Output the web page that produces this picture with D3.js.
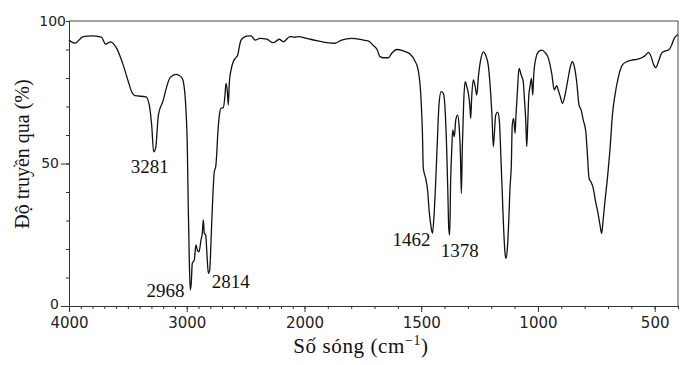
<!DOCTYPE html>
<html>
<head>
<meta charset="utf-8">
<script src="https://cdn.jsdelivr.net/npm/d3@7"></script>
<style>
  html, body { margin: 0; padding: 0; background: #fff; }
  #chart { width: 690px; height: 365px; }
  .tick text { font-family: "DejaVu Sans", Verdana, sans-serif; font-size: 15px; fill: #222; }
  .y-axis .tick text { font-size: 14px; }
  .serif { font-family: "Liberation Serif", "Times New Roman", serif; fill: #111; }
</style>
</head>
<body>
<div id="chart"></div>
<script>
// wavenumber (cm-1) and transmittance (%)
const wavenumber = [
  4000, 3950, 3880, 3810, 3725, 3688, 3648, 3595, 3540, 3496, 3468, 3440, 3346, 3318, 3298, 3281,
  3264, 3241, 3199, 3180, 3140, 3090, 3072, 3040, 3029, 3009, 2995, 2987, 2978, 2970, 2961, 2953,
  2936, 2922, 2910, 2896, 2879, 2868, 2859, 2851, 2839, 2828, 2817, 2805, 2794, 2783, 2766, 2754,
  2746, 2737, 2723, 2709, 2690, 2675, 2667, 2655, 2647, 2638, 2624, 2605, 2584, 2567, 2556, 2539,
  2505, 2491, 2463, 2449, 2420, 2378, 2321, 2265, 2214, 2180, 2123, 2081, 2053, 1991, 1948, 1905,
  1869, 1841, 1798, 1748, 1727, 1705, 1688, 1677, 1660, 1641, 1626, 1605, 1577, 1548, 1527, 1513,
  1501, 1495, 1491, 1481, 1472, 1467, 1459, 1452, 1445, 1438, 1431, 1424, 1415, 1405, 1398, 1391,
  1386, 1382, 1378, 1374, 1369, 1365, 1358, 1352, 1344, 1338, 1332, 1328, 1324, 1318, 1312, 1305,
  1298, 1292, 1288, 1284, 1277, 1270, 1262, 1255, 1244, 1234, 1224, 1212, 1204, 1197, 1191, 1187,
  1181, 1172, 1165, 1159, 1152, 1147, 1141, 1137, 1131, 1124, 1120, 1114, 1110, 1104, 1098, 1094,
  1088, 1081, 1072, 1063, 1058, 1052, 1048, 1044, 1039, 1034, 1028, 1022, 1018, 1009, 998, 984,
  970, 955, 941, 930, 920, 913, 904, 895, 884, 872, 861, 853, 844, 834, 824, 815,
  806, 795, 788, 781, 773, 763, 753, 744, 734, 727, 720, 713, 701, 691, 681, 670,
  655, 638, 620, 598, 577, 555, 538, 527, 515, 505, 495, 484, 470, 455, 441, 427,
  416, 403, 400
];
const transmittance = [
  93.3, 92.2, 94.5, 94.8, 94.3, 91.8, 92.7, 90.4, 84.6, 78.7, 75.2, 73.8, 73.4, 70.5, 63.5, 54.1,
  55.4, 67.0, 72.3, 75.5, 80.2, 81.3, 81.1, 80.0, 78.7, 70.5, 55.3, 34.4, 15.6, 5.6, 8.5, 15.0,
  16.1, 21.4, 19.6, 19.0, 23.2, 25.5, 30.2, 25.5, 24.9, 17.9, 11.5, 12.6, 22.6, 34.3, 47.1, 48.9,
  53.0, 60.0, 67.0, 69.4, 69.6, 74.0, 78.1, 75.2, 70.5, 78.7, 82.8, 85.7, 87.1, 88.1, 90.4, 93.3,
  94.5, 94.7, 94.8, 94.7, 93.3, 93.9, 93.6, 92.4, 93.6, 92.7, 94.5, 94.3, 94.5, 93.9, 93.1, 92.4,
  92.2, 93.3, 93.9, 93.3, 93.0, 91.4, 89.8, 87.5, 87.1, 87.1, 88.7, 90.0, 89.5, 88.4, 86.0, 82.8,
  72.9, 61.2, 48.3, 44.8, 40.1, 34.3, 28.4, 25.5, 31.9, 43.6, 57.6, 70.5, 75.2, 74.6, 69.4, 55.3,
  40.1, 27.3, 24.9, 43.6, 55.3, 61.8, 59.4, 65.3, 67.0, 63.5, 53.0, 39.5, 55.3, 71.7, 78.7, 77.0,
  74.6, 70.5, 65.8, 72.9, 79.3, 77.5, 74.0, 80.5, 86.9, 89.2, 88.1, 84.0, 76.4, 67.0, 55.9, 60.0,
  67.0, 68.0, 64.7, 53.0, 37.8, 27.3, 18.5, 16.7, 20.2, 31.9, 41.0, 49.5, 63.5, 65.8, 60.6, 67.0,
  75.2, 83.4, 81.1, 78.7, 72.9, 64.7, 55.9, 63.5, 74.0, 77.0, 79.9, 74.0, 81.1, 86.9, 89.2, 89.8,
  89.0, 86.9, 81.6, 75.8, 77.3, 75.8, 73.4, 71.1, 74.0, 79.3, 84.0, 85.7, 84.0, 78.7, 70.5, 68.8,
  65.3, 61.2, 53.0, 44.8, 43.6, 41.3, 36.6, 33.1, 28.4, 25.5, 30.8, 36.6, 46.0, 55.3, 67.0, 74.0,
  80.5, 84.6, 85.7, 86.3, 86.5, 87.1, 88.1, 89.0, 87.5, 84.8, 83.6, 85.7, 88.7, 89.5, 89.8, 91.6,
  93.9, 95.1, 95.2
];

// peak annotations
const peakLabels = ["3281", "2968", "2814", "1462", "1378"];
const peakWn = [3281, 2968, 2814, 1452, 1378];
const peakT = [54.1, 5.6, 11.5, 25.5, 24.9];

// axis ticks
const xMajor = [4000, 3000, 2000, 1500, 1000, 500];
const yMajor = [0, 50];

const yLabel = "Độ truyền qua (%)";

////////////////////////////////////////////////////////////////////
////////////////////////////  Init  ////////////////////////////////

const width = 690;
const height = 365;
const margin = { top: 21, right: 12, bottom: 59, left: 69 };

const svg = d3.select("#chart").append("svg")
  .attr("width", width)
  .attr("height", height);

// IR spectrum axis: 4000-2000 compressed, 2000-400 expanded
const x = d3.scaleLinear()
  .domain([4000, 2000, 400])
  .range([margin.left, 304.5, width - margin.right]);

const y = d3.scaleLinear()
  .domain([0, 100])
  .range([height - margin.bottom, margin.top]);

const data = wavenumber.map((d, i) => ({ wn: d, t: transmittance[i] }));

// frame
svg.append("path")
  .attr("d", `M${x(4000)},${y(100)}H${x(400)}V${y(0)}`)
  .attr("fill", "none")
  .attr("stroke", "#444")
  .attr("stroke-width", 1);

// x axis (minor every 100, major labelled)
const minorX = d3.range(4000, 399, -100);
svg.append("g")
  .attr("transform", `translate(0,${y(0)})`)
  .call(d3.axisBottom(x).tickValues(minorX).tickSize(3).tickFormat(""))
  .call(g => g.selectAll("line, path").attr("stroke", "#333"));

svg.append("g")
  .attr("transform", `translate(0,${y(0)})`)
  .call(d3.axisBottom(x).tickValues(xMajor).tickSize(6).tickPadding(5).tickFormat(d3.format("d")))
  .call(g => g.select(".domain").remove())
  .call(g => g.selectAll("line").attr("stroke", "#333"));

// y axis
svg.append("g")
  .attr("transform", `translate(${x(4000)},0)`)
  .call(d3.axisLeft(y).tickValues(d3.range(0, 101, 10)).tickSize(3).tickFormat(""))
  .call(g => g.selectAll("line, path").attr("stroke", "#333"));

svg.append("g")
  .attr("class", "y-axis")
  .attr("transform", `translate(${x(4000)},0)`)
  .call(d3.axisLeft(y).tickValues(yMajor).tickSize(8).tickPadding(2).tickFormat(d3.format("d")))
  .call(g => g.select(".domain").remove())
  .call(g => g.selectAll("line").attr("stroke", "#333"))
  .call(g => g.selectAll("text").attr("dy", d => d === 0 ? "0.2em" : "0.32em"));

svg.append("g")
  .attr("class", "y-axis")
  .attr("transform", `translate(${x(4000)},0)`)
  .call(d3.axisLeft(y).tickValues([100]).tickSize(0).tickPadding(3).tickFormat(d3.format("d")))
  .call(g => g.select(".domain").remove());

// spectrum
const line = d3.line()
  .x(d => x(d.wn))
  .y(d => y(d.t))
  .curve(d3.curveMonotoneX);

svg.append("path")
  .datum(data)
  .attr("d", line)
  .attr("fill", "none")
  .attr("stroke", "#111")
  .attr("stroke-width", 1.3)
  .attr("stroke-linejoin", "round");

// peak labels
const labelDx = [-4, -25, 22, -21, 10];
const labelDy = [21, 7, 15, 13, 21.5];
svg.selectAll(".peak")
  .data(peakLabels)
  .enter()
  .append("text")
  .attr("class", "serif peak")
  .attr("x", (d, i) => x(peakWn[i]) + labelDx[i])
  .attr("y", (d, i) => y(peakT[i]) + labelDy[i])
  .attr("text-anchor", "middle")
  .attr("font-size", 19)
  .text(d => d);

// axis titles
const xTitle = svg.append("text")
  .attr("class", "serif")
  .attr("x", 361)
  .attr("y", 353)
  .attr("text-anchor", "middle")
  .attr("font-size", 21)
  .attr("letter-spacing", 0.6);
xTitle.append("tspan").text("Số sóng (cm");
xTitle.append("tspan").attr("font-size", 14).attr("dy", -8).text("−1");
xTitle.append("tspan").attr("dy", 8).text(")");

svg.append("text")
  .attr("class", "serif")
  .attr("transform", "translate(29,154) rotate(-90)")
  .attr("text-anchor", "middle")
  .attr("font-size", 20)
  .text(yLabel);
</script>
</body>
</html>
